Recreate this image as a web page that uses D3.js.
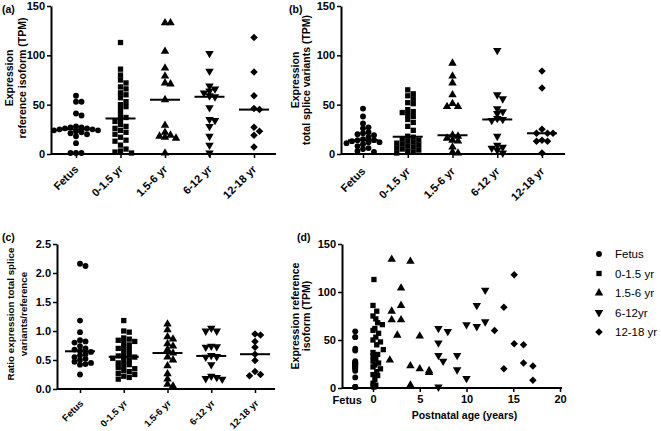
<!DOCTYPE html>
<html><head><meta charset="utf-8">
<script src="https://cdn.jsdelivr.net/npm/d3@7"></script>
<style>
body{margin:0;background:#fff}
svg text{font-family:"Liberation Sans",Arial,sans-serif;fill:#000}
</style></head>
<body><svg id="chart" width="661" height="431"></svg>
<script>
// ---------- data ----------
const groups = ["Fetus", "0-1.5 yr", "1.5-6 yr", "6-12 yr", "12-18 yr"];
const legendLabels = ["Fetus", "0-1.5 yr", "1.5-6 yr", "6-12yr", "12-18 yr"];

// (a) expression reference isoform (TPM)
const refFetus  = [59,53,53,41,39,28,27,27,26,26,25,25,24,24,23,22,21,20,18,11,1,1,1];
const refInfant = [113,86,80,75,72,68,66,62,60,57,53,50,48,45,40,37,35,33,30,28,26,24,22,20,17,14,13,9,5,3,2,1];
const refChild  = [133,133,104,87,79,72,71,55,29,22,19,18,17,16,1];
const refSchool = [102,84,69,66,64,62,59,58,47,35,34,28,18,9,1];
const refAdol   = [118,83,59,46,45,27,23,19,7];

// (b) expression total splice variants (TPM)
const splFetus  = [46,38,31,27,26,22,21,20,19,17,15,14,14,13,12,12,11,10,8,6,5,3,2];
const splInfant = [65,61,59,56,52,51,45,43,42,40,38,35,32,28,24,18,17,15,14,13,12,11,10,9,8,7,6,5,4,3,2,1];
const splChild  = [92,79,72,60,51,48,48,19,18,16,14,13,7,2,1];
const splSchool = [105,60,56,46,43,41,36,35,34,18,9,7,6,4,1];
const splAdol   = [84,67,25,21,21,21,14,13,13,1];

// (c) ratio total splice variants / reference
const ratFetus  = [2.16,2.12,1.18,0.98,0.84,0.82,0.8,0.74,0.7,0.68,0.66,0.64,0.6,0.58,0.55,0.52,0.5,0.47,0.45,0.43,0.42,0.25];
const ratInfant = [1.18,1.0,0.98,0.88,0.86,0.84,0.82,0.8,0.76,0.72,0.7,0.68,0.64,0.6,0.57,0.56,0.55,0.53,0.5,0.48,0.45,0.42,0.4,0.37,0.35,0.32,0.3,0.27,0.25,0.22,0.2,0.17];
const ratChild  = [1.12,1.02,0.9,0.86,0.78,0.74,0.68,0.62,0.55,0.5,0.4,0.26,0.17,0.08,0.05];
const ratSchool = [1.05,1.0,1.0,0.74,0.73,0.72,0.58,0.56,0.55,0.42,0.22,0.2,0.18,0.17];
const ratAdol   = [0.95,0.93,0.82,0.72,0.6,0.49,0.3,0.25,0.23];

// (d) expression reference isoform vs postnatal age
const ageInfant = [0.1,0.0,0.4,0.0,0.3,0.5,1.0,0.2,0.0,0.6,0.3,0.0,0.8,0.4,1.1,0.0,0.5,0.0,0.3,0.0,0.6,0.2,0.0,0.8,0.4,0.0,0.5,0.2,0.0,0.3,0.0,0.1];
const ageChild  = [2,4,3,2,3,2,3,2.6,5,1.8,4,5,6,6,4];
const valChild  = [134,132,104,80,86,71,71,55,54,29,23,20,18,16,3];
const ageSchool = [12,11.1,12,10,11.1,7,8,7,7,9,7.5,9,10,7];
const valSchool = [102,86,69,66,64,62,59,47,34,34,28,19,10,1];
const ageAdol   = [15.1,14,13,15.1,16.1,16.1,17.1,14,17.1];
const valAdol   = [118,84,60,46,45,26,23,20,8];

const yTicksTPM = [0, 50, 100, 150];
const yTicksRatio = [0, 0.5, 1.0, 1.5, 2.0, 2.5];
const xTicksAge = [0, 5, 10, 15, 20];

// ---------- symbols ----------
const diamond = {draw(ctx, size){const r=Math.sqrt(size/2);ctx.moveTo(0,-r);ctx.lineTo(r,0);ctx.lineTo(0,r);ctx.lineTo(-r,0);ctx.closePath();}};
const symTypes = [d3.symbolCircle, d3.symbolSquare, d3.symbolTriangle, d3.symbolTriangle, diamond];
const symRot = [0, 0, 0, 180, 0];
const symSize = [27, 28, 31, 31, 28];
function sym(i){ return d3.symbol().type(symTypes[i]).size(symSize[i])(); }

const svg = d3.select("#chart");

function beeswarm(values, y, cx, d, thr){
  const pts = values.map((v,i)=>({v, y:y(v)})).sort((a,b)=>a.y-b.y);
  const placed = [];
  for (const p of pts){
    for (let k=0;k<40;k++){
      const off = k===0 ? 0 : (k%2 ? 1 : -1)*Math.ceil(k/2)*d;
      const x = cx + off;
      if (!placed.some(q=>Math.abs(q.y-p.y)<thr && Math.abs(q.x-x)<d*0.95)){ p.x=x; placed.push(p); break; }
    }
  }
  return placed;
}

function yTitle(lines, xs, cy, fs){
  lines.forEach((t,i)=>{
    svg.append("text").attr("transform",`translate(${xs[i]},${cy}) rotate(-90)`)
      .attr("text-anchor","middle").attr("font-weight","bold").attr("font-size",fs).text(t);
  });
}

function yAxis(y, x, ticks, fmt){
  const g = svg.append("g").attr("transform",`translate(${x},0)`)
    .call(d3.axisLeft(y).tickValues(ticks).tickFormat(fmt).tickSize(4).tickSizeOuter(0).tickPadding(2));
  g.select(".domain").attr("stroke","#000").attr("stroke-width",2);
  g.selectAll(".tick line").attr("stroke","#000").attr("stroke-width",1.5);
  g.selectAll(".tick text").attr("font-size",11).attr("font-weight","bold").attr("fill","#000");
  return g;
}

function categoryPanel(cfg){
  const y = d3.scaleLinear().domain(cfg.yDomain).range([cfg.bottom, cfg.top]);
  const x = d3.scalePoint().domain(groups).range(cfg.xRange);
  yAxis(y, cfg.left, cfg.yTicks, cfg.fmt);
  svg.append("line").attr("x1",cfg.left).attr("x2",cfg.right).attr("y1",cfg.bottom).attr("y2",cfg.bottom)
    .attr("stroke","#000").attr("stroke-width",2);
  const gx = svg.append("g").attr("transform",`translate(0,${cfg.bottom})`)
    .call(d3.axisBottom(x).tickSize(4).tickSizeOuter(0).tickFormat(""));
  gx.select(".domain").remove();
  gx.selectAll(".tick line").attr("stroke","#000").attr("stroke-width",1.5);
  groups.forEach(gname=>{
    svg.append("text").attr("transform",`translate(${x(gname)+cfg.lblDx},${cfg.bottom+cfg.lblDy}) rotate(-45)`)
      .attr("text-anchor","end").attr("font-weight","bold").attr("font-size",cfg.lblFs).text(gname);
  });
  cfg.series.forEach((vals,i)=>{
    const cx = x(groups[i]);
    const pts = beeswarm(vals, y, cx, 5.5, 4.5);
    svg.append("g").selectAll("path").data(pts).join("path")
      .attr("d", sym(i)).attr("fill","#000")
      .attr("transform", p=>`translate(${p.x},${p.y}) rotate(${symRot[i]})`);
    const m = y(d3.median(vals));
    svg.append("line").attr("x1",cx-15).attr("x2",cx+15).attr("y1",m).attr("y2",m)
      .attr("stroke","#000").attr("stroke-width",2);
  });
  yTitle(cfg.title, cfg.titleX, cfg.titleY, cfg.titleFs);
  svg.append("text").attr("x",cfg.label[1]).attr("y",cfg.label[2]).attr("font-weight","bold").attr("font-size",10.5).text(cfg.label[0]);
}

categoryPanel({left:51,right:276,top:6,bottom:154,xRange:[76,254],yDomain:[0,150],yTicks:yTicksTPM,fmt:d3.format("d"),
  series:[refFetus,refInfant,refChild,refSchool,refAdol], lblDx:3, lblDy:16, lblFs:11,
  title:["Expression","reference isoform (TPM)"], titleX:[13,26], titleY:78, titleFs:10.5, label:["(a)",2,13]});

categoryPanel({left:341,right:565,top:6,bottom:154,xRange:[363,542],yDomain:[0,150],yTicks:yTicksTPM,fmt:d3.format("d"),
  series:[splFetus,splInfant,splChild,splSchool,splAdol], lblDx:3, lblDy:18, lblFs:11,
  title:["Expression","total splice variants (TPM)"], titleX:[299,310], titleY:80, titleFs:10.5, label:["(b)",289,13]});

categoryPanel({left:57,right:275,top:244,bottom:389,xRange:[80,255],yDomain:[0,2.5],yTicks:yTicksRatio,fmt:d3.format(".1f"),
  series:[ratFetus,ratInfant,ratChild,ratSchool,ratAdol], lblDx:4, lblDy:15, lblFs:9.5,
  title:["Ratio expression total splice","variants/reference"], titleX:[14,27], titleY:314, titleFs:9.8, label:["(c)",2,241]});

// ---------- panel (d) ----------
(function(){
  const left=342, right=562, top=244, bottom=388;
  const y = d3.scaleLinear().domain([0,150]).range([bottom, top]);
  const x = d3.scaleLinear().domain([0,20]).range([373, 560]);
  const fetusX = x(-1.9);
  yAxis(y, left, yTicksTPM, d3.format("d"));
  svg.append("line").attr("x1",left).attr("x2",right).attr("y1",bottom).attr("y2",bottom).attr("stroke","#000").attr("stroke-width",2);
  const gx = svg.append("g").attr("transform",`translate(0,${bottom})`)
    .call(d3.axisBottom(x).tickValues(xTicksAge).tickFormat(d3.format("d")).tickSize(4).tickSizeOuter(0).tickPadding(3));
  gx.select(".domain").remove();
  gx.selectAll(".tick line").attr("stroke","#000").attr("stroke-width",1.5);
  gx.selectAll(".tick text").attr("font-size",11).attr("font-weight","bold").attr("fill","#000");
  svg.append("text").attr("x",fetusX-8).attr("y",bottom+16).attr("text-anchor","middle").attr("font-weight","bold").attr("font-size",11).text("Fetus");
  svg.append("text").attr("x",(x(0)+x(20))/2-2).attr("y",419).attr("text-anchor","middle").attr("font-weight","bold").attr("font-size",10.5).text("Postnatal age (years)");

  const sets = [
    refFetus.map(v=>({px:fetusX, v})),
    refInfant.map((v,i)=>({px:x(ageInfant[i]), v})),
    valChild.map((v,i)=>({px:x(ageChild[i]), v})),
    valSchool.map((v,i)=>({px:x(ageSchool[i]), v})),
    valAdol.map((v,i)=>({px:x(ageAdol[i]), v}))
  ];
  sets.forEach((pts,i)=>{
    svg.append("g").selectAll("path").data(pts).join("path")
      .attr("d", sym(i)).attr("fill","#000")
      .attr("transform", p=>`translate(${p.px},${y(p.v)}) rotate(${symRot[i]})`);
  });
  yTitle(["Expression reference","isoform (TPM)"], [299,310], 316, 10.5);
  svg.append("text").attr("x",297).attr("y",241).attr("font-weight","bold").attr("font-size",10.5).text("(d)");

  const ly = d3.scalePoint().domain(legendLabels).range([254, 332]);
  legendLabels.forEach((t,i)=>{
    svg.append("path").attr("d", sym(i)).attr("fill","#000")
      .attr("transform",`translate(599,${ly(t)}) rotate(${symRot[i]})`);
    svg.append("text").attr("x",615).attr("y",ly(t)+4).attr("font-size",11.5).text(t);
  });
})();
</script>
</body></html>
